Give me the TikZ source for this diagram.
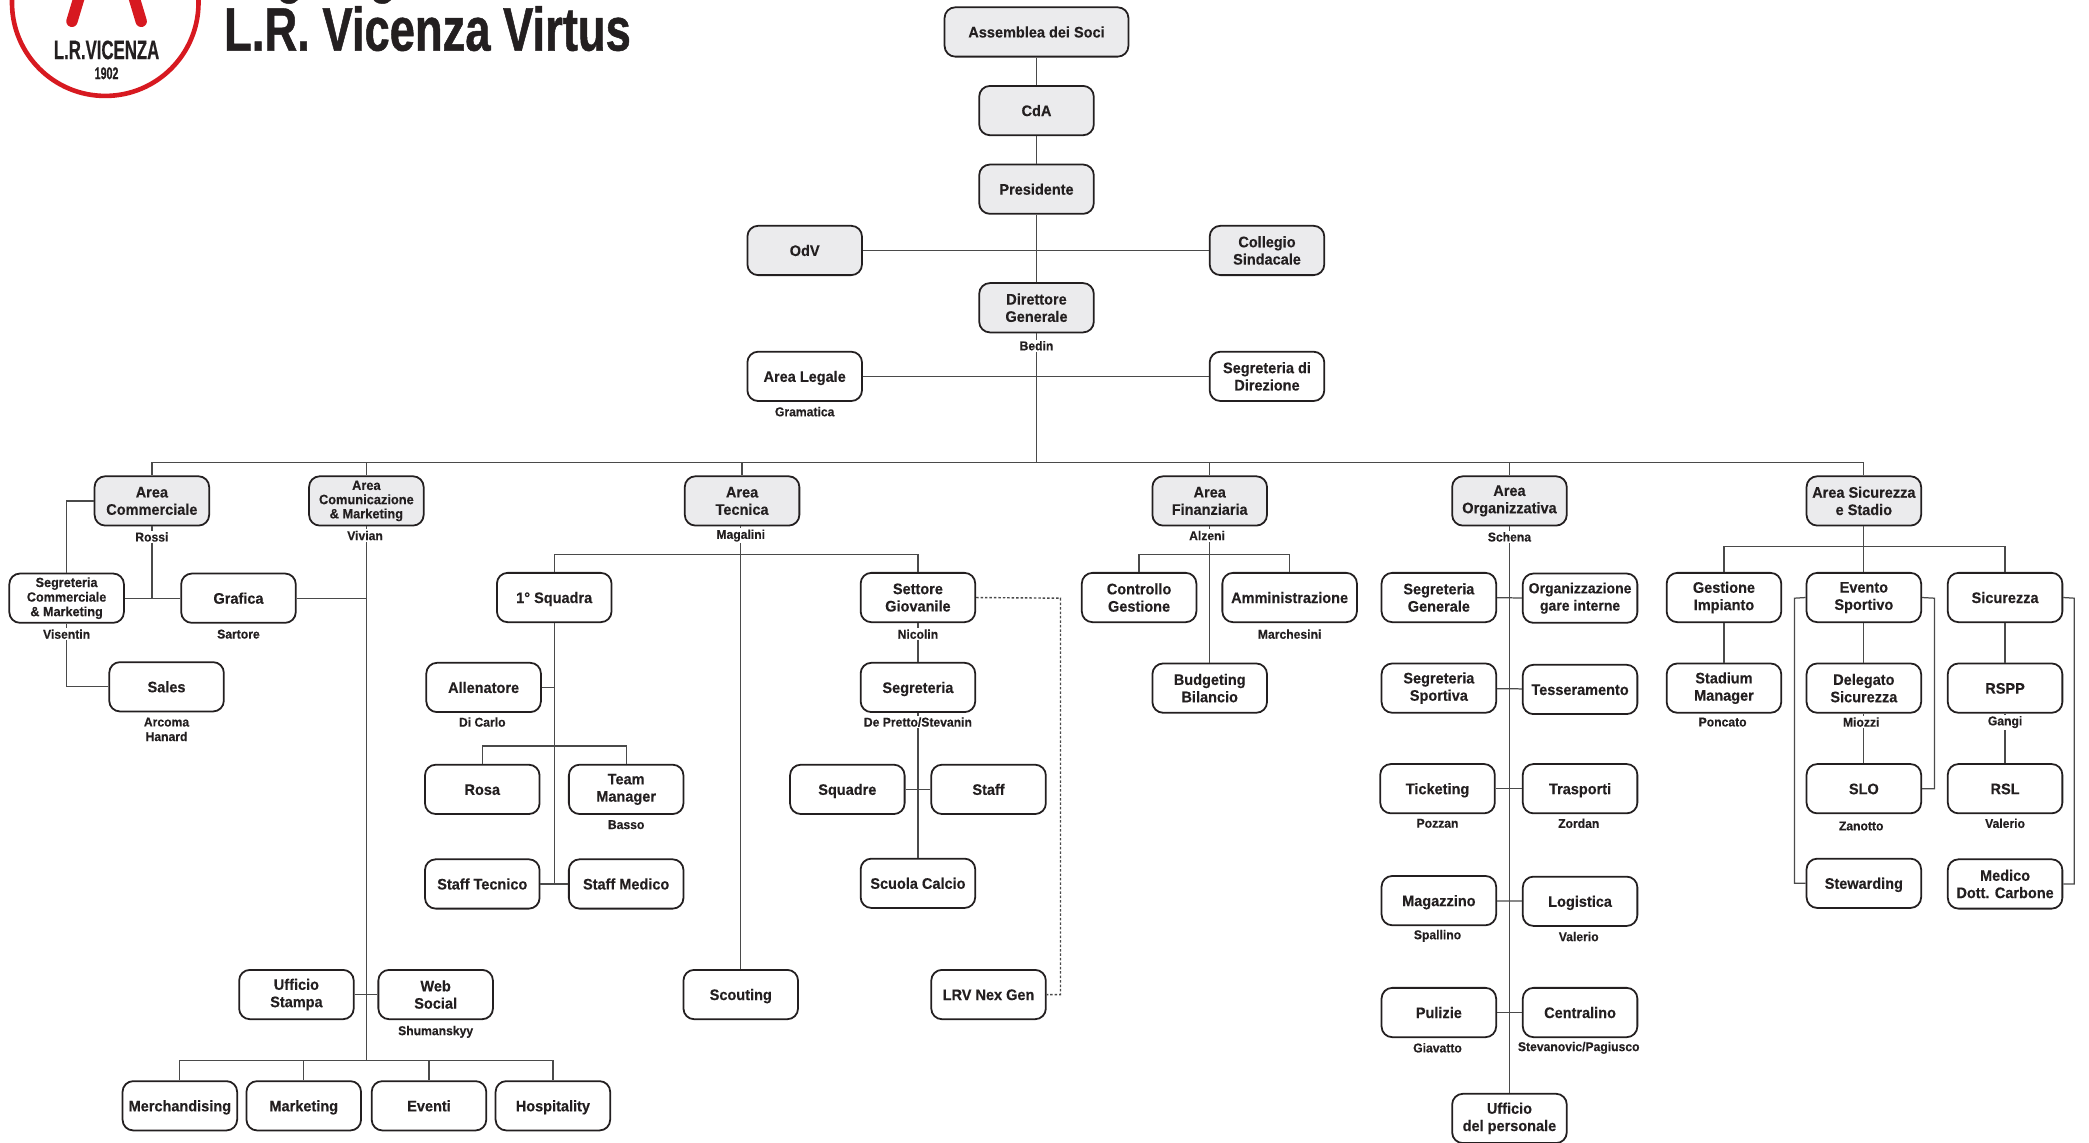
\documentclass[tikz,border=0pt]{standalone}
\usepackage{fontspec}
\setmainfont{Liberation Sans}
\newfontfamily\bodyfont[FakeStretch=0.95,FakeBold=0.25]{Liberation Sans}
\newfontfamily\condfont[FakeStretch=0.63,FakeBold=0.5]{Liberation Sans}
\newfontfamily\titlefont[FakeStretch=0.74,FakeBold=0.8]{Liberation Sans}
\newcommand{\oneline}[1]{\raisebox{0pt}[6.2pt][0pt]{#1}}
\definecolor{ink}{HTML}{231F20}
\definecolor{wire}{HTML}{4A4A4A}
\definecolor{lrred}{HTML}{D71920}
\definecolor{boxgrey}{HTML}{EBEBED}
\tikzset{
 x=0.75pt,y=-0.75pt,
 bx/.style={draw=ink,line width=1pt,rounded corners=6pt,minimum width=64.5pt,minimum height=27.75pt,inner sep=0pt,align=center,fill=white,text=ink,font=\bodyfont\bfseries\fontsize{8.6}{9.75}\selectfont},
 gbx/.style={bx,fill=boxgrey},
 lb/.style={fill=white,inner sep=0.8pt,align=center,text=ink,font=\bodyfont\bfseries\fontsize{7.2}{8}\selectfont},
 ln/.style={draw=wire,line width=0.7pt},
 dotln/.style={draw=wire,line width=0.8pt,dash pattern=on 1.4pt off 1.1pt},
}
\begin{document}
\begin{tikzpicture}
\useasboundingbox (0,0) rectangle (1568,857.9);
\clip (0,0) rectangle (1568,857.9);
% logo
\draw[lrred,line width=2.6pt] (79,2) circle (70);
\draw[lrred,line width=6.4pt,line cap=round] (54,16) -- (63,-14);
\draw[lrred,line width=6.4pt,line cap=round] (106,16) -- (97,-14);
\node[text=ink,inner sep=0pt,font=\condfont\bfseries\fontsize{15}{15}\selectfont] (logoname) at (80,37.5) {L.R.VICENZA};
\node[text=ink,inner sep=0pt,font=\condfont\bfseries\fontsize{9.5}{10}\selectfont] (logoyear) at (80,55) {1902};
% title
\node[anchor=base west,text=ink,inner sep=0pt,font=\titlefont\bfseries\fontsize{34.5}{36}\selectfont] (titleA) at (167,-7) {Organigramma};
\node[anchor=base west,text=ink,inner sep=0pt,font=\titlefont\bfseries\fontsize{34.5}{36}\selectfont] (titleB) at (168,38) {L.R. Vicenza Virtus};
% top
\node[gbx,minimum width=103.5pt] (as) at (778,24) {\oneline{Assemblea dei Soci}};
\node[gbx] (cda) at (778,83) {\oneline{CdA}};
\node[gbx] (pres) at (778,142) {\oneline{Presidente}};
\node[gbx] (odv) at (604,188) {\oneline{OdV}};
\node[gbx] (cs) at (951,188) {Collegio\\Sindacale};
\node[gbx] (dg) at (778,231) {Direttore\\Generale};
\node[bx] (al) at (604,282.5) {\oneline{Area Legale}};
\node[bx] (sd) at (951,282.5) {Segreteria di\\Direzione};
% areas
\node[gbx] (ac) at (114,376) {Area\\Commerciale};
\node[gbx,font=\bodyfont\bfseries\fontsize{7.6}{8}\selectfont] (acm) at (275,376) {Area\\Comunicazione\\\& Marketing};
\node[gbx] (at) at (557,376) {Area\\Tecnica};
\node[gbx] (af) at (908,376) {Area\\Finanziaria};
\node[gbx] (ao) at (1133,376) {Area\\Organizzativa};
\node[gbx] (ass) at (1399,376) {Area Sicurezza\\e Stadio};
% commerciale
\node[bx,font=\bodyfont\bfseries\fontsize{7.5}{8.2}\selectfont] (seg) at (50,449) {Segreteria\\Commerciale\\\& Marketing};
\node[bx] (graf) at (179,449) {\oneline{Grafica}};
\node[bx] (sales) at (125,515.5) {\oneline{Sales}};
\coordinate (jcom) at (114,449);
% comunicazione
\node[bx] (ustampa) at (222.5,746.5) {Ufficio\\Stampa};
\node[bx] (web) at (327,746.5) {Web\\Social};
\coordinate (buscom) at (275,796);
\node[bx] (merch) at (135,830) {\oneline{Merchandising}};
\node[bx] (mkt) at (228,830) {\oneline{Marketing}};
\node[bx] (eventi) at (322,830) {\oneline{Eventi}};
\node[bx] (hosp) at (415,830) {\oneline{Hospitality}};
% tecnica
\coordinate (bustec) at (556,416);
\node[bx] (sq) at (416,448.5) {\oneline{1° Squadra}};
\node[bx] (sg) at (689,448.5) {Settore\\Giovanile};
\node[bx] (alle) at (363,516) {\oneline{Allenatore}};
\coordinate (busrosa) at (416,560);
\node[bx] (rosa) at (362,592.5) {\oneline{Rosa}};
\node[bx] (tm) at (470,592.5) {Team\\Manager};
\node[bx] (stec) at (362,663.5) {\oneline{Staff Tecnico}};
\node[bx] (smed) at (470,663.5) {\oneline{Staff Medico}};
\coordinate (jmed) at (416,663.5);
\node[bx] (scout) at (556,746.5) {\oneline{Scouting}};
\node[bx] (segg) at (689,516) {\oneline{Segreteria}};
\node[bx] (squad) at (636,592.5) {\oneline{Squadre}};
\node[bx] (staff) at (742,592.5) {\oneline{Staff}};
\node[bx] (sc) at (689,663) {\oneline{Scuola Calcio}};
\node[bx] (lrv) at (742,746.5) {\oneline{LRV Nex Gen}};
\coordinate (dotA) at (796,449);
\coordinate (dotB) at (796,746.5);
% finanziaria
\coordinate (busfin) at (908,416);
\node[bx] (cg) at (855,448.5) {Controllo\\Gestione};
\node[bx,minimum width=75.75pt] (amm) at (968,448.5) {\oneline{Amministrazione}};
\node[bx] (bud) at (908,516.5) {Budgeting\\Bilancio};
% organizzativa
\node[bx] (sgen) at (1080,448.5) {Segreteria\\Generale};
\node[bx,font=\bodyfont\bfseries\fontsize{8.3}{9.75}\selectfont] (oga) at (1186,449) {Organizzazione\\gare interne};
\node[bx] (sspo) at (1080,516.5) {Segreteria\\Sportiva};
\node[bx] (tess) at (1186,517.5) {\oneline{Tesseramento}};
\node[bx] (tick) at (1079,592) {\oneline{Ticketing}};
\node[bx] (tras) at (1186,592) {\oneline{Trasporti}};
\node[bx] (mag) at (1080,676) {\oneline{Magazzino}};
\node[bx] (log) at (1186,676.5) {\oneline{Logistica}};
\node[bx] (pul) at (1080,760) {\oneline{Pulizie}};
\node[bx] (cen) at (1186,760) {\oneline{Centralino}};
\node[bx] (up) at (1133,839.5) {Ufficio\\del personale};
% sicurezza
\coordinate (bussic) at (1399,410);
\node[bx] (gi) at (1294,448.5) {Gestione\\Impianto};
\node[bx] (es) at (1399,448.5) {Evento\\Sportivo};
\node[bx] (sic) at (1505,448.5) {\oneline{Sicurezza}};
\node[bx] (stm) at (1294,516.5) {Stadium\\Manager};
\node[bx] (ds) at (1399,516.5) {Delegato\\Sicurezza};
\node[bx] (rspp) at (1505,516.5) {\oneline{RSPP}};
\node[bx] (slo) at (1399,592) {\oneline{SLO}};
\node[bx] (rsl) at (1505,592) {\oneline{RSL}};
\node[bx] (stw) at (1399,663) {\oneline{Stewarding}};
\node[bx] (med) at (1505,663.5) {Medico\\Dott. Carbone};
\coordinate (rowL) at (1347,449);
\coordinate (rowR) at (1452,449);
\coordinate (rowS) at (1557,449);
\coordinate (busmain) at (778,347);
% connectors
\draw[ln] (as) -- (cda);
\draw[ln] (cda) -- (pres);
\draw[ln] (pres) -- (dg);
\draw[ln] (odv) -- (cs);
\draw[ln] (al) -- (sd);
\draw[ln] (dg) -- (busmain);
\draw[ln] (ac.north) |- (busmain);
\draw[ln] (acm.north) |- (busmain);
\draw[ln] (at.north) |- (busmain);
\draw[ln] (af.north) |- (busmain);
\draw[ln] (ao.north) |- (busmain);
\draw[ln] (ass.north) |- (busmain);
\draw[ln] (ac.west) -| (seg.north);
\draw[ln] (ac.south) -- (jcom);
\draw[ln] (seg.east) -- (graf.west);
\draw[ln] (seg.south) |- (sales.west);
\draw[ln] (acm.south) -- (buscom);
\draw[ln] (graf.east) -| (acm.south);
\draw[ln] (ustampa) -- (web);
\draw[ln] (merch.north) |- (buscom);
\draw[ln] (mkt.north) |- (buscom);
\draw[ln] (eventi.north) |- (buscom);
\draw[ln] (hosp.north) |- (buscom);
\draw[ln] (scout.north) -- (scout.north |- at.south);
\draw[ln] (sq.north) |- (bustec);
\draw[ln] (sg.north) |- (bustec);
\draw[ln] (sq.south) -- (jmed);
\draw[ln] (alle.east) -| (sq.south);
\draw[ln] (rosa.north) |- (busrosa);
\draw[ln] (tm.north) |- (busrosa);
\draw[ln] (stec) -- (smed);
\draw[ln] (sg) -- (segg);
\draw[ln] (segg) -- (sc);
\draw[ln] (squad) -- (staff);
\draw[dotln] (sg.east) -- (dotA) -- (dotB) -- (lrv.east);
\draw[ln] (af.south) -- (bud.north);
\draw[ln] (cg.north) |- (busfin);
\draw[ln] (amm.north) |- (busfin);
\draw[ln] (ao.south) -- (up.north);
\draw[ln] (sgen) -- (oga);
\draw[ln] (sspo) -- (tess);
\draw[ln] (tick) -- (tras);
\draw[ln] (mag) -- (log);
\draw[ln] (pul) -- (cen);
\draw[ln] (ass.south) -- (es.north);
\draw[ln] (gi.north) |- (bussic);
\draw[ln] (sic.north) |- (bussic);
\draw[ln] (gi) -- (stm);
\draw[ln] (es) -- (ds);
\draw[ln] (ds) -- (slo);
\draw[ln] (sic) -- (rspp);
\draw[ln] (rspp) -- (rsl);
\draw[ln] (es.west) -- (rowL) |- (stw.west);
\draw[ln] (es.east) -- (rowR) |- (slo.east);
\draw[ln] (sic.east) -- (rowS) |- (med.east);
% name labels
\node[lb] (nbedin) at (778,259.5) {Bedin};
\node[lb] (ngram) at (604,309) {Gramatica};
\node[lb] (nrossi) at (114,403) {Rossi};
\node[lb] (nvivian) at (274,402) {Vivian};
\node[lb] (nmag) at (556,402) {Magalini};
\node[lb] (nalz) at (906,402) {Alzeni};
\node[lb] (nsch) at (1133,403) {Schena};
\node[lb] (nvis) at (50,476) {Visentin};
\node[lb] (nsar) at (179,476) {Sartore};
\node[lb,font=\bodyfont\bfseries\fontsize{7.2}{8.2}\selectfont] (narc) at (125,547.5) {Arcoma\\Hanard};
\node[lb] (nshu) at (327,774.5) {Shumanskyy};
\node[lb] (ndic) at (362,542) {Di Carlo};
\node[lb] (nbas) at (470,619) {Basso};
\node[lb] (nnic) at (689,476) {Nicolin};
\node[lb] (ndep) at (689,542) {De Pretto/Stevanin};
\node[lb] (nmar) at (968,476) {Marchesini};
\node[lb] (npoz) at (1079,618) {Pozzan};
\node[lb] (nzor) at (1185,618) {Zordan};
\node[lb] (nspa) at (1079,702.5) {Spallino};
\node[lb] (nval) at (1185,703) {Valerio};
\node[lb] (ngia) at (1079,786.5) {Giavatto};
\node[lb] (nste) at (1185,786.5) {Stevanovic/Pagiusco};
\node[lb] (npon) at (1293,542) {Poncato};
\node[lb] (nmio) at (1397,542) {Miozzi};
\node[lb] (ngan) at (1505,542) {Gangi};
\node[lb] (nzan) at (1397,620) {Zanotto};
\node[lb] (nval2) at (1505,618) {Valerio};
\end{tikzpicture}
\end{document}
